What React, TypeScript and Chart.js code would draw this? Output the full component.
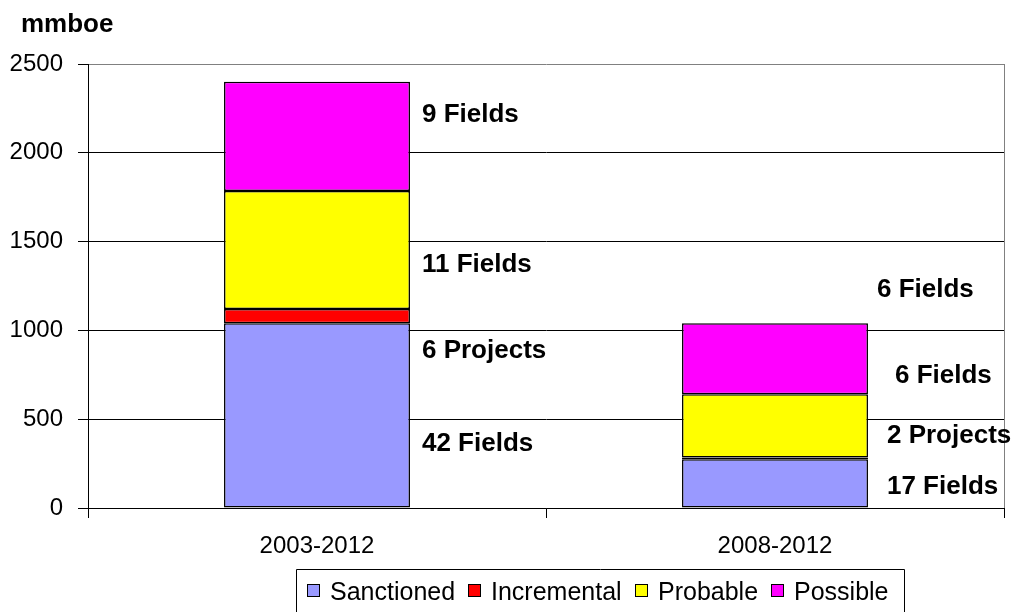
import React, { useEffect, useRef } from 'react';
import { Chart, registerables } from 'chart.js';

Chart.register(...registerables);

const categories = ['2003-2012', '2008-2012'];
const seriesNames = ['Sanctioned', 'Incremental', 'Probable', 'Possible'];
const sanctioned = [1040, 275];
const incremental = [80, 10];
const probable = [665, 355];
const possible = [615, 400];
const yMin = 0;
const yMax = 2500;
const yStep = 500;
const unitLabel = 'mmboe';
const annotationTexts = [
  ['42 Fields', '6 Projects', '11 Fields', '9 Fields'],
  ['17 Fields', '2 Projects', '6 Fields', '6 Fields'],
];

// layout of the annotations (value-axis anchor and pixel offset from bar edge)
const annotationLayout = {
  anchors: [
    [371, 895, 1380, 2224],
    [129, 418, 757, 1241],
  ],
  offsets: [
    [12, 12, 12, 12],
    [19, 19, 27, 9],
  ],
};

const seriesColors = ['#9999FF', '#FF0000', '#FFFF00', '#FF00FF'];
const FONT = '"Liberation Sans", Arial, Helvetica, sans-serif';

const annotationPlugin = {
  id: 'annotations',
  afterDatasetsDraw(chart: any) {
    const ctx = chart.ctx;
    const meta = chart.getDatasetMeta(0);
    const y = chart.scales.y;
    ctx.save();
    ctx.font = `bold 26px ${FONT}`;
    ctx.fillStyle = '#000';
    ctx.textAlign = 'left';
    ctx.textBaseline = 'alphabetic';
    annotationTexts.forEach((texts, ci) => {
      const el = meta.data[ci];
      const right = el.x + el.width / 2;
      texts.forEach((t, k) => {
        const cy = y.getPixelForValue(annotationLayout.anchors[ci][k]);
        ctx.fillText(t, right + annotationLayout.offsets[ci][k], cy + 0.358 * 26);
      });
    });
    ctx.font = `bold 26px ${FONT}`;
    ctx.fillText(unitLabel, 21, 32);
    ctx.restore();
  },
};

const boxLegendPlugin = {
  id: 'boxLegend',
  afterDraw(chart: any) {
    const ctx = chart.ctx;
    const fs = 25;
    ctx.save();
    ctx.font = `${fs}px ${FONT}`;
    const left = 296;
    const top = 569;
    let x = left + 11;
    const cy = 591;
    const items = chart.data.datasets.map((d: any) => ({ label: d.label, color: d.backgroundColor }));
    const positions: number[] = [];
    items.forEach((it: any) => {
      positions.push(x);
      x += 13 + 10 + ctx.measureText(it.label).width + 13;
    });
    const right = x - 13 + 16;
    ctx.strokeStyle = '#000';
    ctx.lineWidth = 1;
    ctx.beginPath();
    ctx.moveTo(left + 0.5, 640);
    ctx.lineTo(left + 0.5, top + 0.5);
    ctx.lineTo(Math.round(right) + 0.5, top + 0.5);
    ctx.lineTo(Math.round(right) + 0.5, 640);
    ctx.stroke();
    items.forEach((it: any, i: number) => {
      const px = Math.round(positions[i]);
      ctx.fillStyle = it.color;
      ctx.fillRect(px, cy - 7, 13, 13);
      ctx.strokeStyle = '#000';
      ctx.strokeRect(px + 0.5, cy - 7 + 0.5, 12, 12);
      ctx.fillStyle = '#000';
      ctx.textAlign = 'left';
      ctx.textBaseline = 'alphabetic';
      ctx.fillText(it.label, px + 23, cy + 0.358 * fs);
    });
    ctx.restore();
  },
};

export default function App() {
  const ref = useRef<HTMLCanvasElement | null>(null);
  useEffect(() => {
    document.body.style.margin = '0';
    const canvas = ref.current;
    if (!canvas) return;
    const series = [sanctioned, incremental, probable, possible];
    const chart = new Chart(canvas, {
      type: 'bar',
      data: {
        labels: categories,
        datasets: seriesNames.map((name, i) => ({
          label: name,
          data: series[i],
          backgroundColor: seriesColors[i],
          borderColor: '#000000',
          borderWidth: 1.5,
          borderSkipped: false,
          inflateAmount: 0,
          categoryPercentage: 1,
          barPercentage: 0.406,
        })),
      },
      options: {
        responsive: false,
        animation: false,
        layout: { padding: { left: 0, right: 12, top: 64, bottom: 0 } },
        plugins: {
          legend: { display: false },
          tooltip: { enabled: false },
          title: { display: false },
        },
        scales: {
          x: {
            stacked: true,
            afterFit: (s: any) => {
              s.height = 104;
            },
            grid: {
              offset: true,
              drawOnChartArea: true,
              color: (c: any) => (c.tick ? 'rgba(0,0,0,0)' : '#808080'),
              tickColor: '#000000',
              tickLength: 10,
              lineWidth: 1,
            },
            border: { color: '#000000', width: 1 },
            ticks: {
              color: '#000000',
              font: { family: FONT, size: 24 },
              padding: 14,
            },
          },
          y: {
            stacked: true,
            min: yMin,
            max: yMax,
            afterFit: (s: any) => {
              s.width = 88;
            },
            grid: {
              color: (c: any) => (c.tick && c.tick.value === yMax ? '#808080' : '#000000'),
              tickColor: '#000000',
              tickLength: 10,
              lineWidth: 1,
            },
            border: { color: '#000000', width: 1 },
            ticks: {
              stepSize: yStep,
              color: '#000000',
              font: { family: FONT, size: 24 },
              padding: 15,
              callback: (v: any) => String(v),
            },
          },
        },
      },
      plugins: [annotationPlugin, boxLegendPlugin],
    } as any);
    return () => chart.destroy();
  }, []);
  return (
    <div style={{ width: 1016, height: 612, position: 'relative', background: '#fff' }}>
      <canvas ref={ref} width={1016} height={612} />
    </div>
  );
}
